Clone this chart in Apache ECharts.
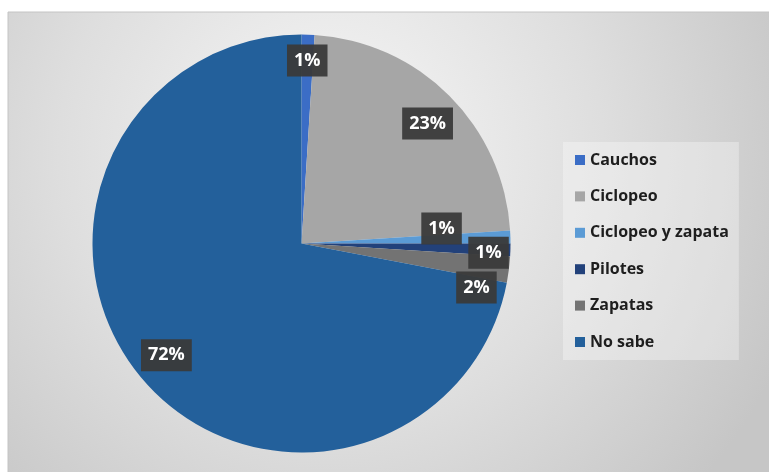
<!DOCTYPE html>
<html>
<head>
<meta charset="utf-8">
<script src="https://cdn.jsdelivr.net/npm/echarts@6/dist/echarts.min.js"></script>
<style>
  html, body { margin: 0; padding: 0; background: #ffffff; }
  #chart { width: 769px; height: 472px; }
</style>
</head>
<body>
<div id="chart"></div>
<script>
// Cimentación: share of each foundation type (%)
const categories = ['Cauchos', 'Ciclopeo', 'Ciclopeo y zapata', 'Pilotes', 'Zapatas', 'No sabe'];
const shares = [1, 23, 1, 1, 2, 72];

// Slice colours
const sliceColors = ['#3b6dc6', '#a6a6a6', '#5b9bd5', '#22417a', '#737373', '#23609b'];

// Label placement along each slice: fraction of radius and small angular nudge (deg)
const labelRadius = [0.876, 0.833, 0.674, 0.896, 0.863, 0.839];
const labelTurn = [0, 1.4, -4.3, 1, 6.9, 0];

const pieCenter = [301.5, 243.5];
const pieRadius = 209;

const total = shares.reduce((a, b) => a + b, 0);
const midAngles = [];
let acc = 0;
shares.forEach(v => { midAngles.push((acc + v / 2) / total * 360); acc += v; });

const chart = echarts.init(document.getElementById('chart'), null, { renderer: 'canvas' });

chart.setOption({
  animation: false,
  backgroundColor: '#ffffff',
  graphic: [{
    type: 'rect',
    z: -10,
    shape: { x: 8, y: 12, width: 770, height: 470 },
    style: {
      fill: {
        type: 'radial', x: 0.42, y: 0.3, r: 1.05,
        colorStops: [
          { offset: 0, color: '#f7f7f7' },
          { offset: 0.55, color: '#dedede' },
          { offset: 1, color: '#c6c6c6' }
        ]
      },
      stroke: '#c4c4c4',
      lineWidth: 1
    }
  }],
  legend: {
    orient: 'vertical',
    left: 563,
    top: 142,
    padding: [9.5, 10, 9.5, 12],
    backgroundColor: 'rgba(255,255,255,0.32)',
    itemWidth: 10,
    itemHeight: 10,
    itemGap: 19.4,
    icon: 'rect',
    data: categories,
    textStyle: {
      fontFamily: 'Open Sans',
      fontWeight: 'bold',
      fontSize: 16,
      lineHeight: 17,
      color: '#1e1e1e',
      padding: [0, 0, 0, 0]
    }
  },
  series: [{
    type: 'pie',
    center: pieCenter,
    radius: pieRadius,
    startAngle: 90,
    clockwise: true,
    avoidLabelOverlap: false,
    silent: true,
    itemStyle: { borderWidth: 0 },
    label: {
      show: true,
      position: 'inside',
      formatter: p => p.value + '%',
      fontFamily: 'Open Sans',
      fontWeight: 'bold',
      fontSize: 18,
      lineHeight: 22,
      color: '#ffffff',
      backgroundColor: 'rgba(58,58,58,0.95)',
      padding: [5, 7]
    },
    labelLine: { show: false },
    labelLayout: function (params) {
      const i = params.dataIndex;
      const a = (midAngles[i] + labelTurn[i]) * Math.PI / 180;
      const d = labelRadius[i] * pieRadius;
      return {
        x: pieCenter[0] + d * Math.sin(a),
        y: pieCenter[1] - d * Math.cos(a),
        align: 'center',
        verticalAlign: 'middle'
      };
    },
    data: categories.map((name, i) => ({
      name: name,
      value: shares[i],
      itemStyle: { color: sliceColors[i] }
    }))
  }]
});
</script>
</body>
</html>
